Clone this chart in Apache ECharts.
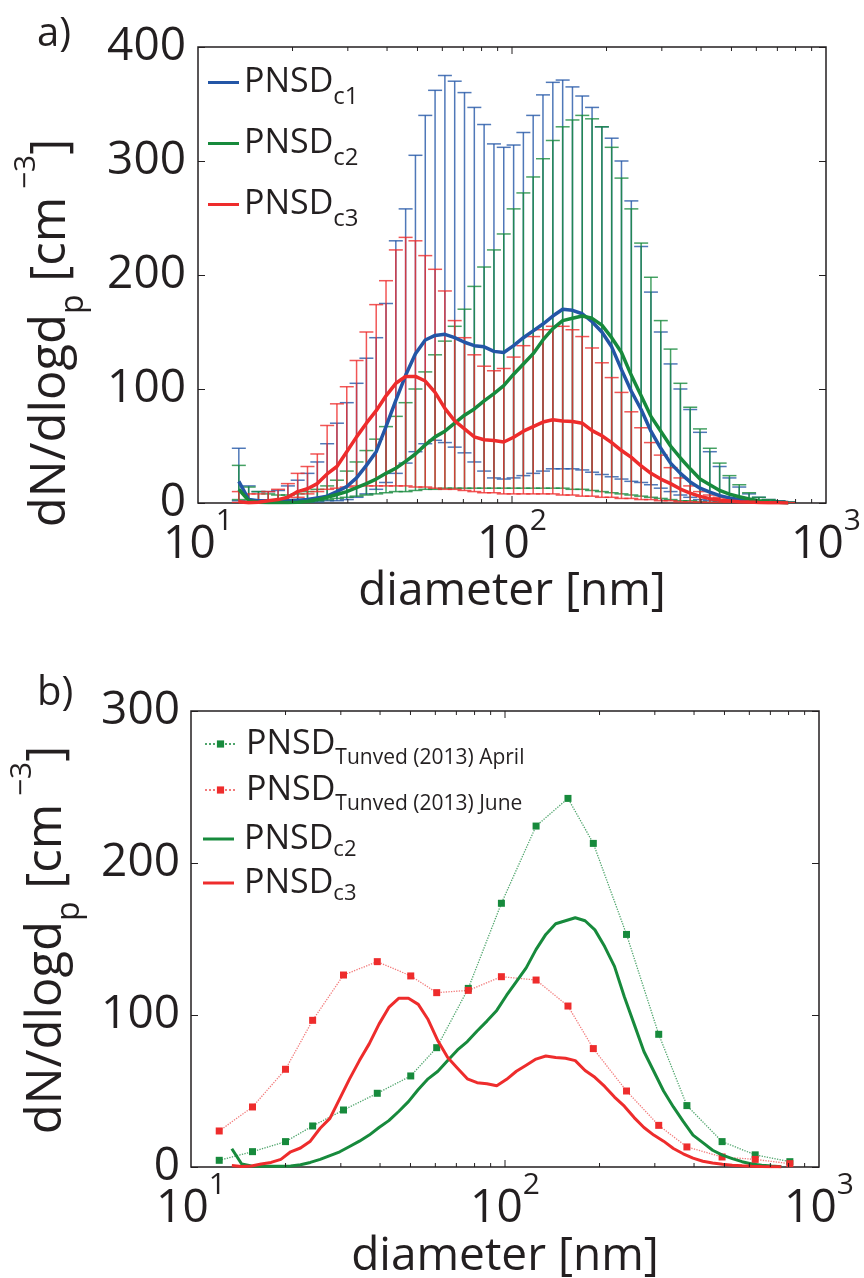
<!DOCTYPE html>
<html><head><meta charset="utf-8">
<script src="https://cdn.jsdelivr.net/npm/echarts@6/dist/echarts.min.js"></script>
<style>html,body{margin:0;padding:0;background:#fff}#c{width:864px;height:1278px}</style>
</head><body><div id="c"></div>
<script>
// ---- data: size bins (nm) of the measured PNSDs ----
const diam = [13.49,14.50,15.58,16.74,17.99,19.33,20.77,22.32,23.99,25.78,27.70,29.77,31.99,34.38,36.94,39.70,42.66,45.84,49.26,52.94,56.89,61.13,65.69,70.59,75.86,81.51,87.60,94.13,101.2,108.7,116.8,125.5,134.9,145.0,155.8,167.4,179.9,193.3,207.7,223.2,239.9,257.8,277.0,297.7,319.9,343.8,369.4,397.0,426.6,458.4,492.6,529.4,568.9,611.3,656.9,705.9,758.6];

const c1Mean = [19,3,2,2,2,2,2.5,3,4.5,6, 10,14.5,22,33,45,67,90,112,131,143, 147,148,145,141,138,137,133,132,138,145, 151,157,164,170,169,166,159,150,137,117, 98,82,63,48,35,26,18.5,13,9.5,6.5, 4.5,3,2,1.3,0.9,0.6,0.4];
const c1High = [48,15,10,10,11,15,20,26,36,52, 70,88,105,127,145,175,230,258,305,340, 362,375,370,360,347,332,315,312,314,325, 340,358,369,371,365,357,347,330,320,300, 265,225,185,150,122,100,82,62,45,32, 22,14,8,5,3,2,1];
const c1Low = [2,1,1,1,1,1,1,1,1,2, 2,3,5,8,12,18,26,35,45,52, 55,53,49,44,36,28,22,21,22,24, 26,28,30,30,30,29,27,25,23,21, 19,18,16,13,10,7,5,3,2,1, 1,0.5,0.5,0.3,0.2,0.1,0.1];

const c2Mean = [12,2,0.7,0.5,0.5,0.5,0.7,1.5,3,5, 7.5,10,13.5,17,21,26,30.5,36.5,43,51, 58,63,70,77,82.5,89.5,96,103,113,122, 131,143,153,160,162,164,162,156,145,132, 112,94,76,63,50,39.5,30,21,16,11, 7.8,5.5,3.5,2,1.2,0.6,0.2];
const c2High = [33,14,10,8,7,7,8,10,12,15, 20,28,36,46,56,67,76,88,100,115, 130,142,155,170,190,207,222,236,258,272, 286,302,318,330,336,340,337,330,312,285, 258,228,198,160,135,105,84,65,48,35, 24,16,9,5,3,1.5,0.8];
const c2Low = [3,1,0.2,0.2,0.2,0.2,0.3,1,2,3, 4,5,6,7,8,9,10,10,11,12, 12,13,13,13,13,13,13,13,13,13, 13,13,13,13,12,12,11,10,9,8, 7,6,5,4,3,2,2,1,0.5,0.5, 0.3,0.2,0.1,0.1,0.1,0.1,0.05];

const c3Mean = [1,0.3,0.7,2,3,5,10,12.5,17,25.5, 32,45,58,70,81,94,105,111,111,107, 97,83,72,65,58,55.5,54.8,53.5,57.7,63, 67,71,73,72,71.5,70,63.5,59,53,46, 40,32.5,26,21,17,12.2,8.7,5.8,3.8,2.6, 1.8,1.2,0.8,0.5,0.3,0.2,0.1];
const c3High = [10,8,8,10,12,17,26,32,43,68, 87,102,125,150,174,195,222,233,230,217, 205,186,160,145,130,120,116,118,128,138, 146,152,155,155,152,146,136,123,110,97, 80,66,53,42,31,22,15,10,7,5, 3.5,2.5,1.5,1,0.7,0.5,0.3];
const c3Low = [0.5,0.2,0.3,1,2,3,5,8,10,12, 13,14,15,15,15,15,15,15,14,14, 13,12,12,11,10,9,9,8,8,8, 8,8,8,7,7,6,6,5,5,4, 4,3,3,2,2,1,1,0.7,0.5,0.4, 0.3,0.2,0.2,0.1,0.1,0.05,0.05];

// ---- Tunved (2013) reference distributions ----
const tunvedD = [12.3,15.7,20.0,24.4,30.6,39.2,50.1,60.6,76.4,97.4,125.6,158.7,191.1,243.8,308.7,379.6,491.3,626.3,807.6];
const tunvedApril = [4.4,10.1,16.7,27.0,37.5,48.5,59.9,78.5,117.5,173.5,224.3,242.5,212.9,153,87.3,40.4,16.7,8,3.5];
const tunvedJune = [23.7,39.5,64.3,96.5,126.3,135.1,125.7,114.7,116.2,125.2,123,105.9,77.9,50,27.4,13.2,6.6,5,2.2];

// ---- axis ticks ----
const xTicks = [20,30,40,50,60,70,80,90,100,200,300,400,500,600,700,800,900];
const xMajor = [100];
const yTicksTop = {min:0, max:400, interval:100};
const yTicksBottom = {min:0, max:300, interval:100};

const FONT = '"Open Sans", sans-serif';
const TXT = '#231f20';
const BLUE = '#2356a6', GREEN = '#178a3c', RED = '#ee2c2c';

const chart = echarts.init(document.getElementById('c'), null, {renderer:'canvas'});

function pair(xs, ys){ return xs.map((x,i)=>[x, ys[i]]); }

function errorBars(name, color, lows, highs, z){
  return {
    type:'custom', name, xAxisIndex:0, yAxisIndex:0, z, silent:true, clip:true,
    data: diam.map((d,i)=>[d, lows[i], highs[i]]),
    encode:{x:0, y:[1,2]},
    renderItem(params, api){
      const d = api.value(0);
      const pHi = api.coord([d, api.value(2)]);
      const pLo = api.coord([d, api.value(1)]);
      const w = 7;
      const style = {stroke:color, lineWidth:1.5, opacity:0.8};
      return {type:'group', children:[
        {type:'line', shape:{x1:pHi[0],y1:pHi[1],x2:pLo[0],y2:pLo[1]}, style},
        {type:'line', shape:{x1:pHi[0]-w,y1:pHi[1],x2:pHi[0]+w,y2:pHi[1]}, style},
        {type:'line', shape:{x1:pLo[0]-w,y1:pLo[1],x2:pLo[0]+w,y2:pLo[1]}, style}
      ]};
    }
  };
}

function tickSeries(xi, yi){
  return {
    type:'custom', xAxisIndex:xi, yAxisIndex:yi, z:10, silent:true,
    data: xTicks.map(v=>[v, 0]),
    encode:{x:0, y:1},
    renderItem(params, api){
      const cs = params.coordSys;
      const v = api.value(0);
      const x = api.coord([v, 0])[0];
      const len = xMajor.indexOf(v) >= 0 ? 7 : 4;
      const st = {stroke:TXT, lineWidth:1};
      return {type:'group', children:[
        {type:'line', shape:{x1:x,y1:cs.y+cs.height,x2:x,y2:cs.y+cs.height-len}, style:st},
        {type:'line', shape:{x1:x,y1:cs.y,x2:x,y2:cs.y+len}, style:st}
      ]};
    }
  };
}

function xAxisDef(gi, gap){
  return {
    gridIndex:gi, type:'log', logBase:10, min:10, max:1000, splitNumber:2,
    axisLine:{show:false}, axisTick:{show:false}, splitLine:{show:false},
    axisLabel:{
      margin:11,
      formatter: v => '{b|10}{s|' + Math.round(Math.log10(v)) + '}',
      rich:{
        b:{fontSize:46, fontFamily:FONT, color:TXT, lineHeight:46, padding:[16,0,0,0]},
        s:{fontSize:30, fontFamily:FONT, color:TXT, lineHeight:30, padding:[0,0,32,0]}
      }
    },
    name:'diameter [nm]', nameLocation:'middle', nameGap:gap,
    nameTextStyle:{fontSize:46, fontFamily:FONT, color:TXT}
  };
}

function yAxisDef(gi, t, pos, margin){
  const left = pos === 'left';
  return {
    gridIndex:gi, type:'value', position:pos, min:t.min, max:t.max, interval:t.interval,
    axisLine:{show:false}, splitLine:{show:false},
    axisTick:{show:true, inside:true, length:7, lineStyle:{color:TXT, width:1}},
    axisLabel:{show:left, margin, fontSize:46, fontFamily:FONT, color:TXT}
  };
}

const legendNames = {
  'PNSD c1':'{m|PNSD}{s|c1}', 'PNSD c2':'{m|PNSD}{s|c2}', 'PNSD c3':'{m|PNSD}{s|c3}',
  'Tunved April':'{m|PNSD}{s|Tunved (2013) April}', 'Tunved June':'{m|PNSD}{s|Tunved (2013) June}',
  'PNSD c2 b':'{m|PNSD}{s|c2}', 'PNSD c3 b':'{m|PNSD}{s|c3}'
};

const titleRich = {
  m:{fontSize:49, fontFamily:FONT, fill:TXT, lineHeight:49},
  s:{fontSize:32, fontFamily:FONT, fill:TXT, lineHeight:32, padding:[45,0,0,0]},
  t:{fontSize:30, fontFamily:FONT, fill:TXT, lineHeight:30, padding:[0,0,50,0]}
};
const titleText = '{m|dN/dlogd}{s|p}{m| [cm}{t| \u22123}{m|]}';

const option = {
  animation:false,
  backgroundColor:'#ffffff',
  grid:[
    {left:198, top:47, width:628, height:456, show:true, borderColor:TXT, borderWidth:1.5, backgroundColor:'rgba(0,0,0,0)', outerBoundsMode:'none'},
    {left:191, top:711, width:628, height:456, show:true, borderColor:TXT, borderWidth:1.5, backgroundColor:'rgba(0,0,0,0)', outerBoundsMode:'none'}
  ],
  xAxis:[ xAxisDef(0, 62), xAxisDef(1, 67) ],
  yAxis:[
    yAxisDef(0, yTicksTop, 'left', 12), yAxisDef(0, yTicksTop, 'right', 12),
    yAxisDef(1, yTicksBottom, 'left', 11), yAxisDef(1, yTicksBottom, 'right', 11)
  ],
  legend:[
    {data:['PNSD c1','PNSD c2','PNSD c3'], orient:'vertical', left:208, top:56, padding:0,
     itemWidth:31, itemHeight:3, itemGap:8, icon:'rect', selectedMode:false,
     formatter:n=>legendNames[n],
     textStyle:{rich:{
       m:{fontSize:34, fontFamily:FONT, color:TXT, lineHeight:34},
       s:{fontSize:24, fontFamily:FONT, color:TXT, lineHeight:24, padding:[29,0,0,0]}}}},
    {data:['Tunved April','Tunved June'], orient:'vertical', left:204, top:719, padding:0,
     itemWidth:31, itemHeight:9, itemGap:-4, selectedMode:false,
     formatter:n=>legendNames[n],
     textStyle:{rich:{
       m:{fontSize:34, fontFamily:FONT, color:TXT, lineHeight:34, padding:[0,0,0,5]},
       s:{fontSize:21, fontFamily:FONT, color:TXT, lineHeight:21, padding:[29,0,0,0]}}}},
    {data:['PNSD c2 b','PNSD c3 b'], orient:'vertical', left:203, top:817, padding:0,
     itemWidth:31, itemHeight:3, itemGap:0, icon:'rect', selectedMode:false,
     formatter:n=>legendNames[n],
     textStyle:{rich:{
       m:{fontSize:34, fontFamily:FONT, color:TXT, lineHeight:34, padding:[0,0,0,5]},
       s:{fontSize:22, fontFamily:FONT, color:TXT, lineHeight:22, padding:[22,0,0,0]}}}}
  ],
  graphic:[
    {type:'text', left:37, top:15, style:{text:'a)', font:'40px "Open Sans", sans-serif', fill:TXT}},
    {type:'text', left:37, top:674, style:{text:'b)', font:'40px "Open Sans", sans-serif', fill:TXT}},
    {type:'text', x:51, y:333, rotation:Math.PI/2,
     style:{text:titleText, rich:titleRich, align:'center', verticalAlign:'middle', fill:TXT}},
    {type:'text', x:47.5, y:940, rotation:Math.PI/2,
     style:{text:titleText, rich:titleRich, align:'center', verticalAlign:'middle', fill:TXT}}
  ],
  series:[
    tickSeries(0,0),
    errorBars('err c1', BLUE, c1Low, c1High, 2),
    errorBars('err c2', GREEN, c2Low, c2High, 2),
    errorBars('err c3', RED, c3Low, c3High, 2),
    {type:'line', name:'PNSD c1', xAxisIndex:0, yAxisIndex:0, z:5, showSymbol:false, data:pair(diam, c1Mean),
     lineStyle:{color:BLUE, width:3.5}, itemStyle:{color:BLUE}},
    {type:'line', name:'PNSD c2', xAxisIndex:0, yAxisIndex:0, z:5, showSymbol:false, data:pair(diam, c2Mean),
     lineStyle:{color:GREEN, width:3.5}, itemStyle:{color:GREEN}},
    {type:'line', name:'PNSD c3', xAxisIndex:0, yAxisIndex:0, z:5, showSymbol:false, data:pair(diam, c3Mean),
     lineStyle:{color:RED, width:3.5}, itemStyle:{color:RED}},
    tickSeries(1,2),
    {type:'line', name:'Tunved April', xAxisIndex:1, yAxisIndex:2, z:4, symbol:'rect', symbolSize:7, data:pair(tunvedD, tunvedApril),
     lineStyle:{color:'#4fa56c', width:1.3, type:'dotted'}, itemStyle:{color:GREEN}},
    {type:'line', name:'Tunved June', xAxisIndex:1, yAxisIndex:2, z:4, symbol:'rect', symbolSize:7, data:pair(tunvedD, tunvedJune),
     lineStyle:{color:'#f27a7a', width:1.3, type:'dotted'}, itemStyle:{color:RED}},
    {type:'line', name:'PNSD c2 b', xAxisIndex:1, yAxisIndex:2, z:5, showSymbol:false, data:pair(diam, c2Mean),
     lineStyle:{color:GREEN, width:3}, itemStyle:{color:GREEN}},
    {type:'line', name:'PNSD c3 b', xAxisIndex:1, yAxisIndex:2, z:5, showSymbol:false, data:pair(diam, c3Mean),
     lineStyle:{color:RED, width:3}, itemStyle:{color:RED}}
  ]
};
chart.setOption(option);
</script></body></html>
